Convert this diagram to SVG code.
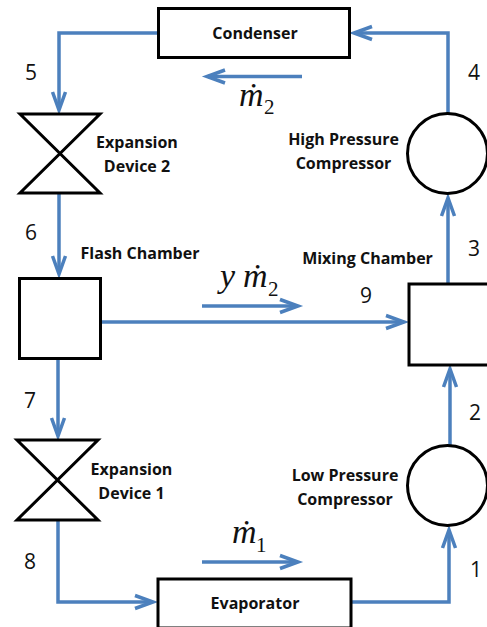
<svg xmlns="http://www.w3.org/2000/svg" width="487" height="627" viewBox="0 0 487 627">
<style>
.n{fill:#fff;stroke:#000;stroke-width:3}
.c{fill:none;stroke:#4c80bd;stroke-width:3.500}
.l{font-family:"Open Sans","Liberation Sans",sans-serif;font-weight:700;font-size:16px;text-anchor:middle;fill:#111}
.d{font-family:"Open Sans","Liberation Sans",sans-serif;font-size:21px;text-anchor:middle;fill:#111}
.m{font-family:"Liberation Serif",serif;font-style:italic;font-size:34px;fill:#111}
.s{font-family:"Liberation Serif",serif;font-size:21px;fill:#111}
</style>
<defs>
<marker id="a" markerUnits="userSpaceOnUse" markerWidth="26" markerHeight="20" refX="18" refY="10" orient="auto"><path d="M1 3.500L19 10L1 16.500" fill="none" stroke="#4c80bd" stroke-width="3.500"/></marker>
</defs>
<g id="connectors">
<path class="c" d="M158 33H59V109" marker-end="url(#a)"/>
<path class="c" d="M59 193V273" marker-end="url(#a)"/>
<path class="c" d="M58 358V435" marker-end="url(#a)"/>
<path class="c" d="M58 520V602H152" marker-end="url(#a)"/>
<path class="c" d="M351 602H449V531" marker-end="url(#a)"/>
<path class="c" d="M450 445V370" marker-end="url(#a)"/>
<path class="c" d="M448 284V199" marker-end="url(#a)"/>
<path class="c" d="M448 113V33H355" marker-end="url(#a)"/>
<path class="c" d="M100 322H403" marker-end="url(#a)"/>
<path class="c" d="M302 76.500H208" marker-end="url(#a)"/>
<path class="c" d="M202 306H297" marker-end="url(#a)"/>
<path class="c" d="M202 562H297" marker-end="url(#a)"/>
</g>
<g id="condenser"><rect class="n" x="158.500" y="8.500" width="191" height="49"/><text class="l" x="255" y="39">Condenser</text></g>
<g id="evaporator"><rect class="n" x="158" y="579" width="193" height="49"/><text class="l" x="255" y="609">Evaporator</text></g>
<g id="device2"><path class="n" d="M20 114H100L20 193H100Z"/><text class="l" x="137" y="148">Expansion</text><text class="l" x="137" y="172">Device 2</text></g>
<g id="device1"><path class="n" d="M17 440H98L17 520H98Z"/><text class="l" x="131.500" y="475">Expansion</text><text class="l" x="131.500" y="499">Device 1</text></g>
<g id="flash"><rect class="n" x="19.500" y="278.500" width="81" height="80"/><text class="l" x="140" y="259">Flash Chamber</text></g>
<g id="mixing"><rect class="n" x="409" y="284" width="90" height="81"/><text class="l" x="367.500" y="264">Mixing Chamber</text></g>
<g id="hp"><circle class="n" cx="447.500" cy="153.500" r="40"/><text class="l" x="343.500" y="145">High Pressure</text><text class="l" x="343.500" y="169">Compressor</text></g>
<g id="lp"><circle class="n" cx="447.500" cy="485.500" r="40"/><text class="l" x="345" y="481">Low Pressure</text><text class="l" x="345" y="505">Compressor</text></g>
<g id="labels">
<text class="d" x="31" y="80">5</text><text class="d" x="31" y="240">6</text><text class="d" x="30" y="408">7</text><text class="d" x="30" y="569">8</text>
<text class="d" x="474" y="80">4</text><text class="d" x="474" y="256">3</text><text class="d" x="475" y="420">2</text><text class="d" x="476" y="577">1</text><text class="d" x="366" y="303">9</text>
<text class="m" x="239" y="106">ṁ</text><text class="s" x="264" y="114">2</text>
<text class="m" x="220" y="287">y</text><text class="m" x="243" y="287">ṁ</text><text class="s" x="268" y="296">2</text>
<text class="m" x="232" y="543">ṁ</text><text class="s" x="256" y="552">1</text>
</g>
</svg>
